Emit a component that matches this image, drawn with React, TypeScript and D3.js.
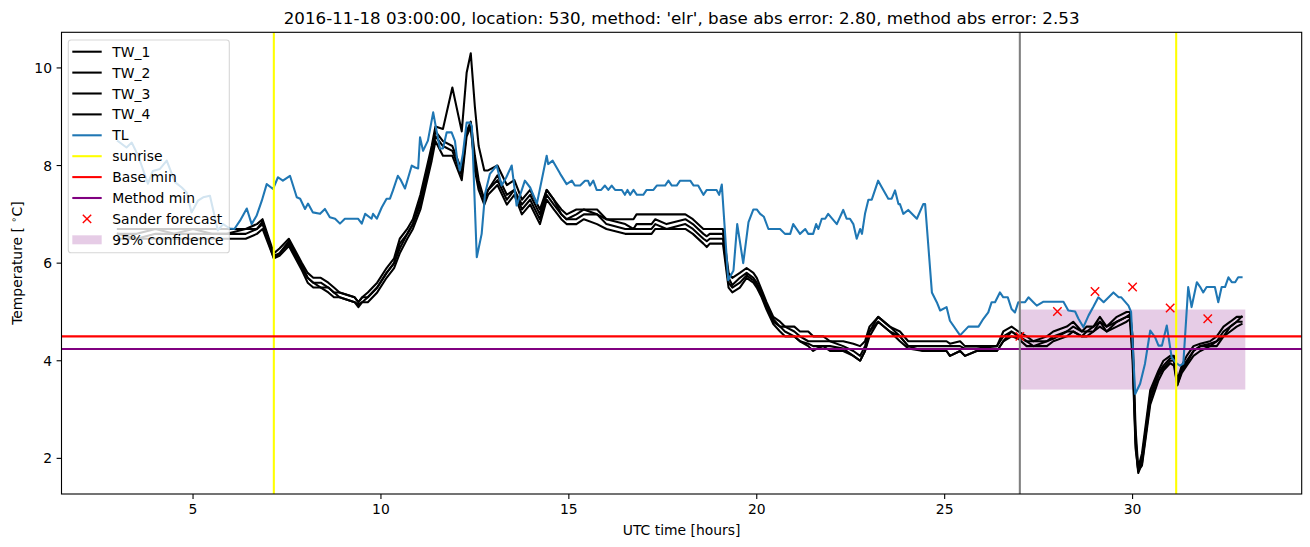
import React from 'react';
import * as d3 from 'd3';

const TITLE = "2016-11-18 03:00:00, location: 530, method: 'elr', base abs error: 2.80, method abs error: 2.53";
const X_LABEL = 'UTC time [hours]';
const xTicks = [5, 10, 15, 20, 25, 30];
const yTicks = [2, 4, 6, 8, 10];

const twTime = [3.0,3.5,4.0,4.5,5.0,5.5,5.9,6.4,6.7,6.85, 7.15,7.3,7.55,7.9,8.05,8.2,8.4,8.6,8.75,8.9, 9.3,9.4,9.5,9.65,9.9,10.15,10.35,10.5,10.7,10.85, 11.05,11.2,11.35,11.45,11.65,11.9,12.15,12.28,12.39,12.5, 12.6,12.75,12.85,13.1,13.35,13.55,13.75,13.97,14.23,14.41, 14.6,14.8,14.94,15.2,15.4,15.75,16.0,16.5,16.72,16.8, 17.2,17.3,17.6,18.1,18.3,18.58,18.67,18.75,19.1,19.25, 19.35,19.55,19.73,19.91,20.0,20.13,20.26,20.44,20.62,20.75, 21.0,21.15,21.37,21.5,21.6,21.77,21.95,22.3,22.57,22.75, 22.88,23.0,23.23,23.54,23.81,24.03,24.43,25.05,25.14,25.41, 25.54,25.85,26.39,26.56,26.78,26.96,27.18,27.36,27.72,27.89, 28.25,28.42,28.65,28.78,28.96,29.13,29.31,29.58,29.84,29.93, 30.0,30.08,30.15,30.25,30.47,30.69,30.82,31.0,31.1,31.19, 31.31,31.44,31.62,31.8,32.06,32.24,32.42,32.6,32.77,32.9];

const tw1 = [6.7,6.7,6.7,6.7,6.7,6.7,6.7,6.7,6.8,6.9, 6.2,6.3,6.5,6.0,5.8,5.7,5.7,5.6,5.5,5.4, 5.3,5.2,5.3,5.4,5.6,5.9,6.1,6.5,6.7,6.9, 7.4,7.9,8.4,8.8,8.75,9.6,8.7,9.9,10.3,9.2, 8.4,7.9,7.9,8.0,7.6,7.7,7.3,7.5,7.1,7.5, 7.3,7.1,7.0,7.1,7.1,7.1,6.9,6.9,6.9,7.0, 7.0,7.0,7.0,7.0,6.9,6.7,6.7,6.7,6.7,5.8, 5.7,5.8,5.9,5.8,5.7,5.45,5.2,4.9,4.8,4.7, 4.7,4.6,4.6,4.5,4.5,4.5,4.4,4.4,4.35,4.3, 4.4,4.7,4.9,4.7,4.6,4.4,4.4,4.4,4.35,4.4, 4.3,4.3,4.3,4.6,4.7,4.6,4.5,4.4,4.5,4.6, 4.7,4.8,4.6,4.7,4.7,4.9,4.7,4.9,5.0,5.0, 4.5,2.6,1.8,2.1,3.4,3.8,4.0,4.1,4.1,3.6, 3.9,4.1,4.3,4.35,4.4,4.5,4.7,4.8,4.9,4.9];
const tw2 = [6.6,6.6,6.7,6.6,6.7,6.6,6.6,6.7,6.7,6.85, 6.15,6.2,6.45,5.95,5.7,5.6,5.6,5.5,5.4,5.4, 5.3,5.2,5.3,5.3,5.5,5.8,6.0,6.4,6.6,6.8, 7.3,7.8,8.3,8.7,8.5,8.4,7.9,8.7,8.9,8.2, 7.7,7.3,7.5,7.8,7.4,7.5,7.2,7.4,7.0,7.5, 7.3,7.0,6.9,7.0,7.1,7.0,6.9,6.8,6.7,6.8, 6.8,6.9,6.8,6.9,6.8,6.6,6.55,6.6,6.6,5.7, 5.55,5.7,5.8,5.7,5.6,5.4,5.15,4.85,4.7,4.7, 4.6,4.5,4.4,4.4,4.4,4.4,4.4,4.3,4.2,4.1, 4.3,4.6,4.9,4.7,4.5,4.3,4.3,4.3,4.3,4.3, 4.25,4.25,4.3,4.5,4.6,4.5,4.4,4.4,4.4,4.5, 4.6,4.7,4.6,4.6,4.7,4.8,4.7,4.8,4.9,4.95, 4.3,2.4,1.75,2.0,3.3,3.75,3.9,4.05,4.05,3.55, 3.85,4.0,4.2,4.3,4.35,4.4,4.6,4.7,4.8,4.9];
const tw3 = [6.6,6.5,6.6,6.6,6.6,6.6,6.6,6.6,6.7,6.8, 6.1,6.2,6.4,5.9,5.7,5.6,5.5,5.5,5.4,5.3, 5.2,5.15,5.2,5.3,5.5,5.8,6.0,6.3,6.6,6.8, 7.2,7.7,8.2,8.6,8.4,8.3,7.8,8.7,8.8,8.0, 7.6,7.3,7.5,7.7,7.3,7.5,7.1,7.3,6.9,7.4, 7.2,7.0,6.9,6.9,7.0,7.0,6.8,6.7,6.7,6.7, 6.7,6.8,6.7,6.8,6.7,6.5,6.45,6.5,6.5,5.6, 5.5,5.6,5.75,5.65,5.55,5.35,5.1,4.8,4.7,4.6, 4.5,4.4,4.35,4.3,4.3,4.3,4.3,4.25,4.1,4.0, 4.2,4.6,4.8,4.6,4.5,4.3,4.2,4.2,4.1,4.2, 4.1,4.2,4.2,4.4,4.6,4.5,4.4,4.3,4.4,4.45, 4.6,4.6,4.5,4.6,4.6,4.8,4.6,4.8,4.9,4.9, 4.2,2.3,1.7,1.9,3.2,3.7,3.85,4.0,4.0,3.5, 3.8,3.95,4.2,4.3,4.3,4.4,4.5,4.7,4.8,4.8];
const tw4 = [6.5,6.5,6.5,6.5,6.5,6.5,6.5,6.5,6.6,6.7, 6.1,6.15,6.35,5.85,5.6,5.5,5.5,5.4,5.3,5.3, 5.2,5.1,5.2,5.2,5.4,5.7,5.9,6.2,6.5,6.7, 7.1,7.6,8.1,8.5,8.2,8.2,7.7,8.6,8.8,7.9, 7.5,7.2,7.4,7.6,7.2,7.4,7.0,7.2,6.8,7.3, 7.1,6.9,6.8,6.8,6.9,6.8,6.7,6.6,6.6,6.6, 6.6,6.7,6.7,6.7,6.6,6.4,6.33,6.4,6.4,5.5, 5.4,5.5,5.7,5.6,5.5,5.3,5.05,4.75,4.6,4.5, 4.5,4.4,4.3,4.2,4.25,4.3,4.2,4.2,4.1,4.0, 4.2,4.5,4.8,4.6,4.4,4.25,4.2,4.2,4.1,4.2, 4.1,4.2,4.2,4.4,4.5,4.45,4.3,4.3,4.3,4.4, 4.5,4.6,4.5,4.5,4.6,4.7,4.6,4.7,4.8,4.85, 4.0,2.2,1.75,1.85,3.1,3.6,3.8,3.95,3.9,3.5, 3.75,3.9,4.1,4.2,4.3,4.3,4.5,4.6,4.7,4.75];

const tlSeries: [number, number][] = [
  [3.0,8.5],[3.23,8.37],[3.37,8.47],[3.54,8.2],[3.8,7.63],[3.93,7.89],[4.12,7.93],[4.3,8.1],[4.52,7.66],[4.7,7.55],
  [4.83,7.45],[4.96,7.04],[5.13,7.28],[5.27,7.35],[5.45,7.38],[5.58,6.94],[5.66,6.67],[5.8,6.8],[5.98,6.71],[6.1,6.7],
  [6.25,6.87],[6.43,7.12],[6.56,6.8],[6.69,6.97],[6.83,7.28],[6.96,7.62],[7.13,7.52],[7.26,7.76],[7.39,7.69],[7.58,7.79],
  [7.76,7.35],[7.85,7.32],[7.98,7.11],[8.06,7.22],[8.19,7.04],[8.38,7.01],[8.51,7.11],[8.64,6.94],[8.78,6.91],[8.91,6.81],
  [9.04,6.91],[9.39,6.91],[9.49,6.81],[9.58,7.01],[9.75,6.91],[9.79,7.01],[9.89,6.91],[10.02,7.14],[10.15,7.32],[10.24,7.32],
  [10.32,7.49],[10.45,7.79],[10.53,7.7],[10.64,7.53],[10.82,8.0],[10.91,7.96],[10.99,7.94],[11.04,8.58],[11.12,8.3],[11.25,8.51],
  [11.39,9.09],[11.48,8.71],[11.57,8.35],[11.65,8.35],[11.75,8.68],[11.88,8.68],[11.97,8.5],[12.02,8.17],[12.1,7.9],[12.18,8.24],
  [12.28,8.88],[12.37,8.88],[12.42,8.8],[12.55,6.12],[12.68,6.6],[12.77,7.42],[12.9,7.83],[13.08,8.0],[13.21,7.59],[13.33,7.75],
  [13.48,8.0],[13.61,7.18],[13.83,7.69],[13.97,7.55],[14.15,7.22],[14.41,8.2],[14.45,8.03],[14.57,8.1],[14.77,7.83],[14.94,7.62],
  [15.08,7.69],[15.16,7.59],[15.3,7.59],[15.43,7.69],[15.51,7.69],[15.56,7.59],[15.65,7.69],[15.74,7.5],[15.86,7.5],[15.96,7.59],
  [16.05,7.5],[16.14,7.59],[16.23,7.5],[16.41,7.5],[16.49,7.4],[16.56,7.5],[16.63,7.4],[16.72,7.5],[16.81,7.4],[16.98,7.4],
  [17.07,7.5],[17.25,7.5],[17.34,7.59],[17.56,7.59],[17.65,7.69],[17.74,7.59],[17.87,7.59],[17.96,7.69],[18.23,7.69],[18.32,7.59],
  [18.44,7.59],[18.58,7.4],[18.67,7.5],[18.93,7.5],[19.0,7.4],[19.07,7.61],[19.24,5.65],[19.38,5.85],[19.48,6.8],[19.64,6.0],
  [19.78,6.84],[19.91,7.1],[20.0,7.1],[20.09,7.01],[20.19,6.95],[20.31,6.7],[20.62,6.7],[20.75,6.6],[20.89,6.6],[20.97,6.8],
  [21.15,6.6],[21.29,6.7],[21.37,6.6],[21.5,6.6],[21.58,6.8],[21.64,6.7],[21.73,6.91],[21.82,6.91],[21.9,7.01],[22.13,6.8],
  [22.3,7.09],[22.39,6.91],[22.48,6.91],[22.57,6.8],[22.66,6.5],[22.75,6.7],[22.8,6.6],[22.88,7.01],[22.97,7.3],[23.06,7.3],
  [23.23,7.69],[23.33,7.55],[23.5,7.32],[23.59,7.32],[23.68,7.49],[23.77,7.21],[23.81,7.21],[23.9,7.01],[24.03,7.09],[24.26,6.91],
  [24.43,7.21],[24.48,7.21],[24.66,5.4],[24.79,5.2],[24.88,5.03],[25.05,5.1],[25.14,4.82],[25.41,4.52],[25.63,4.7],[25.9,4.7],
  [26.03,4.86],[26.16,4.99],[26.25,5.2],[26.34,5.2],[26.47,5.4],[26.56,5.3],[26.68,5.3],[26.78,5.06],[26.87,4.99],[26.96,5.2],
  [27.14,5.2],[27.23,5.3],[27.36,5.2],[27.45,5.13],[27.63,5.21],[28.16,5.21],[28.29,5.03],[28.47,5.01],[28.56,4.86],[28.69,4.69],
  [28.83,4.93],[28.96,5.11],[29.09,5.3],[29.23,5.2],[29.49,5.4],[29.63,5.3],[29.7,5.3],[29.89,5.13],[29.96,5.0],[30.07,3.32],
  [30.2,3.53],[30.33,3.94],[30.47,4.62],[30.6,4.48],[30.69,4.31],[30.78,4.31],[30.91,4.72],[31.04,4.07],[31.16,3.95],[31.26,3.9],
  [31.35,3.94],[31.48,5.51],[31.57,5.1],[31.71,5.61],[31.8,5.51],[31.88,5.4],[31.97,5.51],[32.19,5.51],[32.28,5.2],[32.37,5.51],
  [32.46,5.51],[32.55,5.71],[32.64,5.61],[32.73,5.61],[32.81,5.71],[32.9,5.71],
];

const sunriseTimes = [7.15, 31.16];
const forecastTime = 27;
const baseMin = 4.5;
const methodMin = 4.24;
const sanderTime = [27, 28, 29, 30, 31, 32];
const sanderValue = [4.5, 5.01, 5.42, 5.51, 5.08, 4.86];
const confTime = [27, 33];
const confRange = [3.41, 5.05];

const legendItems = ['TW_1', 'TW_2', 'TW_3', 'TW_4', 'TL', 'sunrise', 'Base min', 'Method min', 'Sander forecast', '95% confidence'];

const FONT = 'DejaVu Sans, sans-serif';
const L = 61.5, R = 1301.7, T = 32.3, B = 494;
const LW = 2.08;

export default function App() {
  const tw = [tw1, tw2, tw3, tw4];
  const allX = [...twTime, ...tlSeries.map(d => d[0]), ...confTime, ...sanderTime];
  const allY = [...tw1, ...tw2, ...tw3, ...tw4, ...tlSeries.map(d => d[1]), ...sanderValue, ...confRange];
  const [x0, x1] = d3.extent(allX) as [number, number];
  const [y0, y1] = d3.extent(allY) as [number, number];
  const mx = (x1 - x0) * 0.05, my = (y1 - y0) * 0.05;
  const x = d3.scaleLinear().domain([x0 - mx, x1 + mx]).range([L, R]);
  const y = d3.scaleLinear().domain([y0 - my, y1 + my]).range([B, T]);
  const line = d3.line<[number, number]>().x(d => x(d[0])).y(d => y(d[1]));

  const legendColors = ['#000', '#000', '#000', '#000', '#1f77b4', '#ffff00', '#ff0000', '#800080'];
  const lx = 68.3, ly = 40, lw = 161, lh = 212.7, ey0 = 51.7, estep = 20.9;

  return (
    <svg width={1310} height={547} style={{ position: 'absolute', left: 0, top: 0, background: '#fff' }} fontFamily={FONT}>
      <rect x={0} y={0} width={1310} height={547} fill="#fff" />
      <defs>
        <clipPath id="ax"><rect x={L} y={T} width={R - L} height={B - T} /></clipPath>
      </defs>
      <g clipPath="url(#ax)">
        <rect x={x(confTime[0])} y={y(confRange[1])} width={x(confTime[1]) - x(confTime[0])} height={y(confRange[0]) - y(confRange[1])} fill="#800080" fillOpacity={0.2} />
        {tw.map((vals, i) => (
          <path key={i} d={line(twTime.map((t, j) => [t, vals[j]]) as [number, number][]) || ''} fill="none" stroke="#000" strokeWidth={LW} strokeLinejoin="round" strokeLinecap="square" />
        ))}
        <path d={line(tlSeries) || ''} fill="none" stroke="#1f77b4" strokeWidth={LW} strokeLinejoin="round" strokeLinecap="square" />
        {sunriseTimes.map((t, i) => (
          <line key={i} x1={x(t)} x2={x(t)} y1={T} y2={B} stroke="#ffff00" strokeWidth={LW} />
        ))}
        <line x1={L} x2={R} y1={y(baseMin)} y2={y(baseMin)} stroke="#ff0000" strokeWidth={LW} />
        <line x1={L} x2={R} y1={y(methodMin)} y2={y(methodMin)} stroke="#800080" strokeWidth={LW} />
        <line x1={x(forecastTime)} x2={x(forecastTime)} y1={T} y2={B} stroke="#808080" strokeWidth={LW} />
        {sanderTime.map((t, i) => {
          const cx = x(t), cy = y(sanderValue[i]), s = 4.2;
          return (
            <g key={i} stroke="#ff0000" strokeWidth={1.4}>
              <line x1={cx - s} y1={cy - s} x2={cx + s} y2={cy + s} />
              <line x1={cx - s} y1={cy + s} x2={cx + s} y2={cy - s} />
            </g>
          );
        })}
      </g>
      <rect x={L} y={T} width={R - L} height={B - T} fill="none" stroke="#000" strokeWidth={1.1} />
      {xTicks.map(t => (
        <g key={t}>
          <line x1={x(t)} x2={x(t)} y1={B} y2={B + 4.9} stroke="#000" strokeWidth={1.1} />
          <text x={x(t)} y={514} fontSize={13.9} textAnchor="middle">{t}</text>
        </g>
      ))}
      {yTicks.map(t => (
        <g key={t}>
          <line x1={L - 4.9} x2={L} y1={y(t)} y2={y(t)} stroke="#000" strokeWidth={1.1} />
          <text x={L - 9.5} y={y(t)} fontSize={13.9} textAnchor="end" dominantBaseline="central">{t}</text>
        </g>
      ))}
      <text x={(L + R) / 2} y={535} fontSize={13.9} textAnchor="middle">{X_LABEL}</text>
      <text transform={`translate(22, ${(T + B) / 2}) rotate(-90)`} fontSize={13.9} textAnchor="middle">
        Temperature [ <tspan baselineShift="super" fontSize={9.7}>∘</tspan>C]
      </text>
      <text x={(L + R) / 2} y={24} fontSize={16.7} textAnchor="middle">{TITLE}</text>
      <rect x={lx} y={ly} width={lw} height={lh} rx={2.8} fill="#fff" fillOpacity={0.8} stroke="#cccccc" strokeOpacity={0.8} strokeWidth={1.1} />
      {legendItems.map((name, i) => {
        const cy = ey0 + i * estep;
        let handle;
        if (i < 8) {
          handle = <line x1={72.3} x2={101.7} y1={cy} y2={cy} stroke={legendColors[i]} strokeWidth={LW} />;
        } else if (i === 8) {
          const cx = 87, s = 4.2;
          handle = (
            <g stroke="#ff0000" strokeWidth={1.4}>
              <line x1={cx - s} y1={cy - s} x2={cx + s} y2={cy + s} />
              <line x1={cx - s} y1={cy + s} x2={cx + s} y2={cy - s} />
            </g>
          );
        } else {
          handle = <rect x={72.3} y={cy - 4.5} width={29.4} height={9} fill="#800080" fillOpacity={0.2} />;
        }
        return (
          <g key={name}>
            {handle}
            <text x={112.3} y={cy} fontSize={13.9} dominantBaseline="central">{name}</text>
          </g>
        );
      })}
    </svg>
  );
}
